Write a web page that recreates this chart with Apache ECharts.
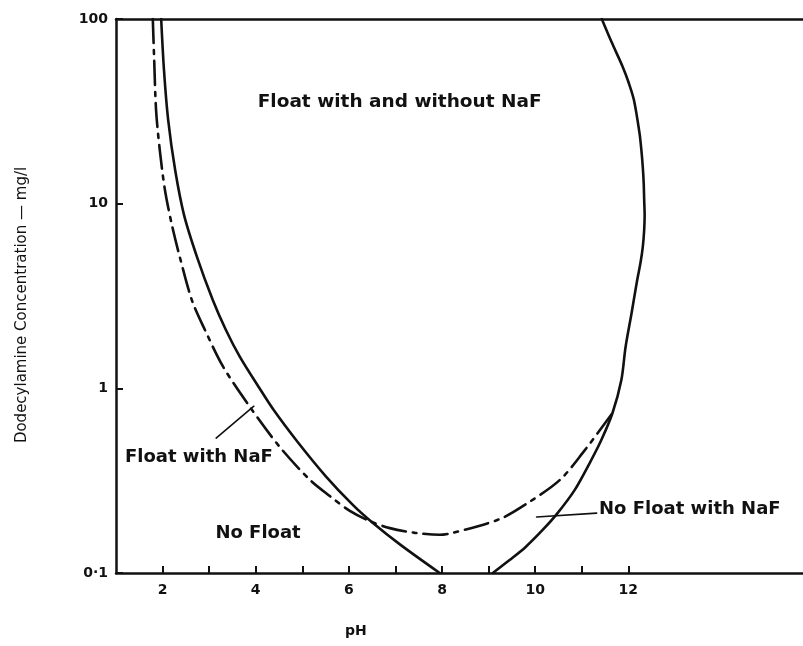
<!DOCTYPE html>
<html>
<head>
<meta charset="utf-8">
<title>Dodecylamine flotation vs pH</title>
<script src="https://cdn.jsdelivr.net/npm/echarts@6/dist/echarts.min.js"></script>
<style>
  html, body { margin: 0; padding: 0; background: #ffffff; }
  #chart { width: 803px; height: 646px; }
</style>
</head>
<body>
<div id="chart"></div>
<script>
// Boundary without NaF, acid branch (pH, dodecylamine mg/l)
const solidLeftPH   = [1.97, 2.03, 2.12, 2.27, 2.46, 2.74, 3.08, 3.36, 3.66, 4.06, 4.39, 4.90, 5.50, 6.09, 6.49, 7.11, 7.95];
const solidLeftConc = [100, 53, 28.4, 15.2, 8.7, 5.14, 3.0, 2.07, 1.48, 1.02, 0.76, 0.512, 0.335, 0.233, 0.189, 0.142, 0.1];

// Boundary without NaF, alkaline branch
const solidRightPH   = [9.09, 9.45, 9.79, 10.16, 10.48, 10.85, 11.17, 11.42, 11.66, 11.85, 11.94, 12.07, 12.19, 12.26, 12.31, 12.34, 12.35, 12.34, 12.33, 12.31, 12.28, 12.24, 12.12, 12.01, 11.88, 11.64, 11.43];
const solidRightConc = [0.1, 0.1175, 0.138, 0.171, 0.211, 0.282, 0.394, 0.525, 0.735, 1.11, 1.67, 2.56, 3.86, 4.77, 5.82, 7.2, 8.69, 10.5, 12.9, 15.8, 19.5, 24.1, 36.4, 45, 55, 75, 100];

// Boundary with NaF
const nafPH   = [1.79, 1.82, 1.86, 1.94, 2.05, 2.20, 2.37, 2.63, 2.91, 3.30, 3.88, 4.52, 5.16, 5.59, 6.02, 6.45, 6.88, 7.42, 7.95, 8.23, 9.24, 9.88, 10.53, 11.02, 11.66];
const nafConc = [100, 60, 32.2, 19.5, 11.9, 7.67, 5.14, 3.0, 2.07, 1.31, 0.79, 0.48, 0.32, 0.261, 0.217, 0.191, 0.175, 0.165, 0.161, 0.165, 0.196, 0.243, 0.319, 0.447, 0.735];

// Axis ticks and labels
const xTickValues  = [2, 3, 4, 5, 6, 7, 8, 9, 10, 11, 12];
const xLabelValues = [2, 4, 6, 8, 10, 12];
const yLabelText   = { '-1': '0\u00b71', '0': '1', '1': '10', '2': '100' };

// Region labels: text, pH, concentration
const regionText = ['Float with and without NaF', 'Float with NaF', 'No Float', 'No Float with NaF'];
const regionPH   = [7.09, 2.78, 4.05, 13.32];
const regionConc = [35.6, 0.425, 0.165, 0.222];

// Leader lines from labels to curves
const leaderNafFloatPH   = [3.15, 3.96];
const leaderNafFloatConc = [0.538, 0.80];
const leaderNafNoFloatPH   = [10.03, 11.32];
const leaderNafNoFloatConc = [0.201, 0.211];

const zip = (xs, ys) => xs.map((x, i) => [x, ys[i]]);
const INK = '#111111';
const FONT = 'DejaVu Sans';

const chart = echarts.init(document.getElementById('chart'), null, { renderer: 'canvas' });

const lineSeries = (name, data, type, width, smooth) => ({
  name,
  type: 'line',
  data,
  xAxisIndex: 0,
  yAxisIndex: 0,
  smooth,
  showSymbol: false,
  symbol: 'none',
  silent: true,
  animation: false,
  lineStyle: { color: INK, width, type, cap: 'round', opacity: 1 }
});

chart.setOption({
  backgroundColor: '#ffffff',
  animation: false,
  grid: { left: 116, right: 0, top: 19, bottom: 73, containLabel: false },
  xAxis: [
    {
      type: 'value',
      position: 'bottom',
      min: 1,
      max: 15.75,
      axisLine: { show: true, onZero: false, lineStyle: { color: INK, width: 2.5 } },
      axisTick: { show: true, inside: true, length: 7, customValues: xTickValues, lineStyle: { color: INK, width: 2 } },
      axisLabel: {
        customValues: xLabelValues, margin: 10,
        color: INK, fontSize: 14, fontWeight: 'bold', fontFamily: FONT
      },
      splitLine: { show: false }
    },
    {
      type: 'value',
      position: 'top',
      min: 1,
      max: 15.75,
      axisLine: { show: true, onZero: false, lineStyle: { color: INK, width: 2.5 } },
      axisTick: { show: false },
      axisLabel: { show: false },
      splitLine: { show: false }
    }
  ],
  yAxis: {
    type: 'log',
    logBase: 10,
    min: 0.1,
    max: 100,
    name: 'Dodecylamine Concentration \u2014 mg/l',
    nameLocation: 'middle',
    nameGap: 86,
    nameTextStyle: { color: INK, fontSize: 15, fontFamily: FONT, padding: [0, 18, 0, 0] },
    axisLine: { show: true, lineStyle: { color: INK, width: 2.5 } },
    axisTick: { show: true, inside: true, length: 7, lineStyle: { color: INK, width: 2 } },
    axisLabel: {
      margin: 8,
      color: INK, fontSize: 14, fontWeight: 'bold', fontFamily: FONT,
      formatter: v => yLabelText[String(Math.round(Math.log10(v)))] || ''
    },
    splitLine: { show: false }
  },
  graphic: [
    {
      type: 'text',
      left: 345,
      top: 624,
      style: { text: 'pH', fill: INK, font: 'bold 14px "DejaVu Sans"' }
    }
  ],
  series: [
    lineSeries('without NaF (acid)', zip(solidLeftPH, solidLeftConc), 'solid', 2.6, 0.3),
    lineSeries('without NaF (alkaline)', zip(solidRightPH, solidRightConc), 'solid', 2.6, 0.3),
    lineSeries('with NaF', zip(nafPH, nafConc), [24, 7, 4, 7], 2.6, 0.3),
    lineSeries('leader 1', zip(leaderNafFloatPH, leaderNafFloatConc), 'solid', 1.6, false),
    lineSeries('leader 2', zip(leaderNafNoFloatPH, leaderNafNoFloatConc), 'solid', 1.6, false),
    {
      name: 'regions',
      type: 'scatter',
      silent: true,
      symbolSize: 0,
      itemStyle: { opacity: 1 },
      data: regionText.map((t, i) => ({
        value: [regionPH[i], regionConc[i], t],
        label: { fontSize: i === 0 ? 18.5 : 18 }
      })),
      label: {
        show: true,
        position: 'inside',
        formatter: p => p.value[2],
        color: INK,
        opacity: 1,
        fontSize: 18,
        fontWeight: 'bold',
        fontFamily: FONT
      },
      z: 10
    }
  ]
});
</script>
</body>
</html>
